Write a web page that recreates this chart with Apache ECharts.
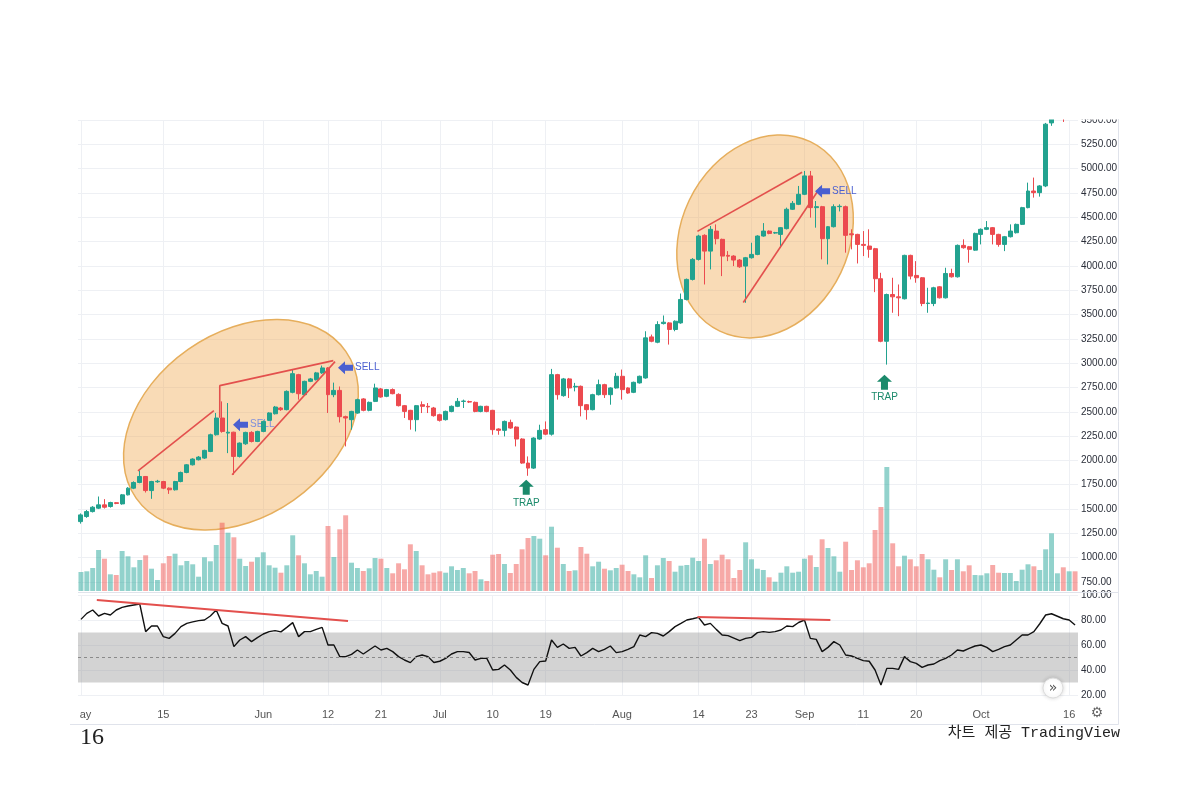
<!DOCTYPE html>
<html><head><meta charset="utf-8">
<script src="https://cdn.jsdelivr.net/npm/echarts@6/dist/echarts.min.js"></script>
<style>html,body{margin:0;padding:0;background:#fff}#c{width:1200px;height:800px}</style>
</head><body><div id="c"></div>
<script>
// ---- x-axis tick labels (day index -> label) ----
const tickIdx = [0,14,31,42,51,61,70,79,92,105,114,123,133,142,153,168];
const tickLabels = ['May','15','Jun','12','21','Jul','10','19','Aug','14','23','Sep','11','20','Oct','16'];

// ---- daily OHLC ----
const opens = [1371,1423,1474,1509,1543,1526,1565,1553,1646,1715,
1773,1835,1690,1780,1783,1715,1698,1783,1876,1955,
2007,2024,2092,2264,2436,2281,2290,2041,2171,2288,
2195,2298,2412,2480,2539,2522,2700,2882,2676,2813,
2830,2900,2951,2676,2720,2450,2419,2487,2632,2515,
2607,2735,2659,2728,2679,2563,2515,2419,2573,2556,
2539,2470,2419,2504,2556,2607,2605,2597,2504,2556,
2515,2323,2309,2391,2343,2220,1973,1921,2220,2316,
2270,2882,2666,2838,2755,2762,2573,2522,2676,2779,
2676,2745,2865,2745,2700,2797,2848,3270,3215,3407,
3414,3346,3414,3655,3861,4067,4314,4152,4358,4273,
4108,4101,4060,3998,4084,4118,4307,4358,4338,4324,
4383,4582,4633,4736,4925,4599,4609,4280,4403,4609,
4609,4330,4324,4221,4204,4177,3868,3225,3706,3682,
3662,4108,3902,3878,3613,3613,3785,3672,3922,3888,
4211,4197,4162,4324,4376,4393,4324,4221,4300,4341,
4427,4599,4770,4753,4822,5470,5620,5800,5640,5700];
const closes = [1440,1474,1519,1543,1519,1567,1558,1646,1715,1773,
1835,1690,1783,1786,1715,1698,1783,1876,1955,2014,
2034,2103,2264,2436,2298,2290,2041,2178,2288,2195,
2298,2401,2488,2549,2522,2710,2892,2686,2813,2838,
2900,2951,2676,2720,2450,2436,2504,2625,2515,2597,
2745,2652,2728,2686,2563,2504,2419,2563,2556,2550,
2460,2412,2504,2556,2607,2610,2600,2504,2556,2504,
2316,2309,2401,2333,2220,1973,1921,2230,2309,2270,
2882,2676,2838,2745,2762,2563,2522,2676,2779,2676,
2745,2865,2728,2693,2803,2865,3260,3225,3397,3421,
3346,3431,3655,3861,4067,4307,4152,4376,4280,4101,
4100,4060,3991,4084,4118,4307,4358,4334,4342,4393,
4582,4643,4736,4925,4599,4609,4280,4403,4609,4613,
4314,4320,4221,4211,4170,3868,3225,3706,3682,3672,
4108,3895,3878,3613,3618,3775,3672,3922,3888,4211,
4187,4170,4334,4376,4393,4324,4221,4300,4358,4427,
4599,4770,4753,4822,5457,5620,5800,5640,5700,5600];
const lows = [1350,1410,1465,1500,1505,1515,1550,1545,1640,1705,
1765,1670,1605,1770,1705,1656,1690,1775,1868,1948,
2000,2015,2085,2255,2285,2075,1852,2030,2160,2185,
2188,2290,2405,2472,2510,2515,2690,2625,2665,2805,
2822,2890,2488,2650,2390,2144,2316,2480,2505,2505,
2600,2645,2650,2680,2555,2436,2316,2298,2487,2487,
2450,2400,2410,2495,2548,2539,2590,2495,2495,2495,
2264,2264,2247,2325,2144,1965,1842,1912,2212,2260,
2255,2625,2655,2642,2710,2453,2419,2515,2668,2642,
2573,2738,2625,2685,2692,2790,2840,3215,3205,3398,
3191,3328,3405,3645,3850,4055,3809,3964,4221,3895,
4049,3998,3980,3621,4075,4110,4300,4325,4330,4187,
4375,4575,4625,4728,4496,4393,4067,4015,4395,4560,
4136,4170,4025,4101,4084,3730,3215,2985,3518,3483,
3655,3861,3827,3586,3518,3586,3665,3665,3880,3880,
4177,4033,4155,4221,4368,4221,4197,4152,4292,4333,
4420,4592,4702,4712,4810,5440,5560,5480,5560,5560];
const highs = [1455,1490,1530,1629,1602,1575,1572,1655,1725,1785,
1897,1840,1790,1800,1790,1722,1790,1885,1962,2022,
2045,2110,2275,2488,2607,2590,2295,2185,2295,2300,
2305,2410,2495,2560,2550,2720,2934,2890,2820,2848,
2910,2975,2960,2800,2760,2460,2510,2635,2640,2605,
2789,2745,2735,2740,2690,2570,2520,2570,2607,2590,
2550,2480,2512,2565,2642,2625,2615,2605,2562,2562,
2520,2330,2410,2419,2350,2228,2041,2238,2367,2401,
2941,2890,2848,2848,2797,2770,2580,2685,2831,2788,
2752,2900,2934,2752,2810,2872,3328,3294,3431,3490,
3422,3440,3716,3870,4080,4320,4325,4410,4427,4280,
4152,4110,4070,4092,4238,4315,4440,4365,4350,4400,
4599,4667,4822,4976,4976,4667,4617,4410,4633,4633,
4620,4376,4330,4358,4376,4185,3929,3715,3878,3809,
4115,4115,4049,3885,3775,3785,3792,3981,3971,4220,
4273,4205,4342,4385,4461,4400,4330,4308,4427,4435,
4607,4856,4908,4830,5470,5650,5850,5830,5760,5720];

// ---- volume (relative units) ----
const volumes = [19,19.7,23,41,32.3,16.7,16,40,34.7,23.7,
31,35.7,22.3,11,27.7,35,37.3,25.7,30,26.7,
14.3,33.7,29.7,46,68.3,58.3,53.7,32.3,25,29.3,
33.7,38.7,25.7,23.3,18.3,25.7,55.7,35.7,27.7,16.7,
20,14.3,65,34,61.7,75.7,28.3,23,20,22.7,
33,32.3,23,17.7,27.7,21.7,46.7,40,25.7,16.7,
18.3,19.7,18.3,24.7,21,23,17.7,20,11.7,10,
36.3,37,27,18,27,41.7,53,55,52.3,35.7,
64.3,43.3,27,20,20.7,44,37.3,24.7,29.3,22.3,
20.7,23,26.3,20,16.7,13.7,35.7,13,25.7,33,
30,19.3,25.3,26,33.3,30,52.3,27,30.7,36.3,
31.7,13,21,48.7,31.7,22.3,21,13.7,9.3,18.3,
24.7,18.3,19.3,32.3,35.7,24,51.7,43,34.7,19.3,
49.3,21,30.7,23.7,27.7,61,84,124,47.7,24.7,
35.3,31.7,24.7,37,31.7,21.3,13.7,31.7,21,31.7,
19.7,25.7,16,15.7,17.7,26,18.3,18,18,10,
21.3,26.7,24.7,21,41.7,57.7,17.7,23.7,19.7,19.7];

// ---- RSI ----
const rsi = [80.5,85.3,88,83.2,85.3,84,88,90.1,91.2,92,
92.8,70.7,75.2,75.2,66.7,65.3,69.3,74.7,77.3,78.5,
79.5,80,83.2,88,77.3,75.2,58.7,64,66.7,62.7,
65.9,68.8,70.7,71.5,70.5,74.1,77.9,66.7,70.7,70.7,
72.5,74.1,60,60,50.7,50.7,52.5,56,52.8,56,
59.2,56,57.3,54.7,50.7,48,45.9,50.7,52,50.7,
46,47,49.3,52.8,54.7,54.7,54,48,49.3,49.3,
40,40.5,44,40,34.1,30,28,40.5,46.7,47.2,
64,58.1,60.8,57.3,58.1,51.2,53.9,57.3,54.7,56.5,
59.2,53.9,54.7,56.5,58.7,68,66.7,69.9,69.3,67.2,
70.7,74.7,77.3,80,81,82.1,76,77.3,72.5,68,
67.5,65.5,63.5,65.3,66.1,69.9,70.7,70.1,70.7,72,
75.2,74.7,78,80,65.3,64.5,54.7,58.1,62.7,60,
52,51.2,49.3,47.5,47,40,28,41.3,41.3,40.5,
50.7,46.7,45.3,42.1,44,44.8,47.5,49.3,52,56,
55.2,57.3,59.2,60,58.1,54.7,56.5,58.7,60,64,
68,68,70.7,77,84,85,83,81,80,76];

// ---- annotations, in data coordinates [day index, price] ----
const sellSignals = [[25.85,2367],[43.7,2954],[124.8,4767]];
const trapSignals = [[75.7,1801],[136.6,2882]];
const zoneCentres = [[27.2,2367],[116.3,4303]];
const priceTrendLines = [
  [[9.7,1893],[22.6,2511]],
  [[23.6,2439],[23.6,2769],[42.9,3026]],
  [[25.7,1852],[43.2,3016]],
  [[104.8,4355],[122.6,4963]],
  [[112.6,3624],[125.7,4808]]
];
const rsiTrendLines = [[[2.7,96],[45.4,79.2]],[[104.8,82.4],[127.4,80]]];

const categories = [];
for (let i = 0; i < opens.length; i++) {
  const d = new Date(Date.UTC(2021, 4, 1 + i));
  categories.push(d.toISOString().slice(0, 10));
}

const FONT = "'Liberation Sans Narrow','Liberation Sans',sans-serif";
const GRID_LINE = '#eef0f4';
const UP = '#22a28f', DOWN = '#ec4a4f';
const UP_VOL = 'rgba(38,166,154,0.5)', DOWN_VOL = 'rgba(239,83,80,0.5)';
const TREND = '#e3504d';

const chart = echarts.init(document.getElementById('c'), null, {renderer: 'canvas'});

const series = [
  {
    type: 'candlestick', xAxisIndex: 0, yAxisIndex: 0, z: 3,
    data: opens.map((o, i) => [o, closes[i], lows[i], highs[i]]),
    barWidth: '76%',
    itemStyle: {color: UP, color0: DOWN, borderColor: UP, borderColor0: DOWN, borderWidth: 1}
  },
  {
    type: 'bar', xAxisIndex: 1, yAxisIndex: 1, z: 1, barCategoryGap: '16%',
    data: volumes.map((v, i) => ({value: v, itemStyle: {color: closes[i] >= opens[i] ? UP_VOL : DOWN_VOL}}))
  },
  {
    type: 'line', xAxisIndex: 3, yAxisIndex: 2, z: 3, symbol: 'none', silent: true,
    data: rsi.map((v, i) => [i, v]),
    lineStyle: {color: '#111', width: 1.4},
    markArea: {silent: true, itemStyle: {color: 'rgba(150,150,150,0.42)'}, data: [[{yAxis: 30}, {yAxis: 70}]]},
    markLine: {silent: true, symbol: ['none', 'none'], label: {show: false},
      lineStyle: {color: '#8a8a8a', type: [3, 3], width: 1}, data: [{yAxis: 50}]}
  }
];
priceTrendLines.forEach(pts => series.push({
  type: 'line', xAxisIndex: 2, yAxisIndex: 0, z: 4, symbol: 'none', silent: true,
  data: pts, lineStyle: {color: TREND, width: 1.6}
}));
rsiTrendLines.forEach(pts => series.push({
  type: 'line', xAxisIndex: 3, yAxisIndex: 2, z: 4, symbol: 'none', silent: true,
  data: pts, lineStyle: {color: TREND, width: 1.8}
}));

const vxBase = {
  type: 'value', min: -0.5, max: 169.5,
  axisLine: {show: false},
  axisTick: {show: false, customValues: tickIdx},
  axisLabel: {show: false},
  splitLine: {show: true, lineStyle: {color: GRID_LINE, width: 1}}
};

chart.setOption({
  animation: false,
  backgroundColor: '#fff',
  grid: [
    {left: 78, width: 1000, top: 120, height: 462},
    {left: 78, width: 1000, top: 461, height: 130},
    {left: 78, width: 1000, top: 595, height: 100}
  ],
  xAxis: [
    {type: 'category', gridIndex: 0, data: categories, show: false},
    {type: 'category', gridIndex: 1, data: categories, show: false},
    Object.assign({gridIndex: 0}, vxBase),
    Object.assign({}, vxBase, {gridIndex: 2, position: 'bottom',
      axisLabel: {show: true, customValues: tickIdx, margin: 14, color: '#555', fontSize: 11, fontFamily: FONT,
        formatter: v => tickLabels[tickIdx.indexOf(Math.round(v))] || ''}}),
    Object.assign({gridIndex: 1}, vxBase)
  ],
  yAxis: [
    {type: 'value', gridIndex: 0, position: 'right', min: 750, max: 5500, interval: 250,
      axisLine: {show: false}, axisTick: {show: false},
      axisLabel: {formatter: v => v.toFixed(2), color: '#2a2e39', fontSize: 10, margin: 3, fontFamily: FONT},
      splitLine: {show: true, lineStyle: {color: GRID_LINE}}},
    {type: 'value', gridIndex: 1, min: 0, max: 130, show: false},
    {type: 'value', gridIndex: 2, position: 'right', min: 20, max: 100, interval: 20,
      axisLine: {show: false}, axisTick: {show: false},
      axisLabel: {formatter: v => v.toFixed(2), color: '#2a2e39', fontSize: 10, margin: 3, fontFamily: FONT},
      splitLine: {show: true, lineStyle: {color: GRID_LINE}}}
  ],
  series: series
});

// ---- annotation graphics anchored to data coordinates ----
const toPx = p => chart.convertToPixel({xAxisIndex: 2, yAxisIndex: 0}, p);
const graphics = [];
const zoneStyle = [
  {rx: 128, ry: 92, rot: 35},
  {rx: 105, ry: 84, rot: 64.5}
];
zoneCentres.forEach((c, i) => {
  const [x, y] = toPx(c);
  graphics.push({type: 'ellipse', x: x, y: y, rotation: zoneStyle[i].rot * Math.PI / 180, silent: true, z: 1,
    shape: {cx: 0, cy: 0, rx: zoneStyle[i].rx, ry: zoneStyle[i].ry},
    style: {fill: 'rgba(240,170,80,0.42)', stroke: '#e6ae5c', lineWidth: 1.5}});
});
sellSignals.forEach((s, i) => {
  const [tx, ty] = toPx(s);
  graphics.push({type: 'polygon', z: 6, silent: true,
    shape: {points: [[tx, ty], [tx + 7, ty - 6.5], [tx + 7, ty - 3], [tx + 15, ty - 3], [tx + 15, ty + 3], [tx + 7, ty + 3], [tx + 7, ty + 6.5]]},
    style: {fill: '#4a5fd0'}});
  graphics.push({type: 'text', z: i === 0 ? 2 : 6, silent: true, x: tx + 17, y: ty,
    style: {text: 'SELL', fill: i === 0 ? '#7f8fdc' : '#4a5fd0', fontSize: 10, fontFamily: FONT, align: 'left', verticalAlign: 'middle'}});
});
trapSignals.forEach(s => {
  const [tx, ty] = toPx(s);
  graphics.push({type: 'polygon', z: 6, silent: true,
    shape: {points: [[tx, ty], [tx + 7.5, ty + 7], [tx + 3.5, ty + 7], [tx + 3.5, ty + 15], [tx - 3.5, ty + 15], [tx - 3.5, ty + 7], [tx - 7.5, ty + 7]]},
    style: {fill: '#1b8a6b'}});
  graphics.push({type: 'text', z: 6, silent: true, x: tx, y: ty + 23,
    style: {text: 'TRAP', fill: '#1b8a6b', fontSize: 10, fontFamily: FONT, align: 'center', verticalAlign: 'middle'}});
});
// frame / chrome
graphics.push(
  {type: 'rect', z: 50, silent: true, shape: {x: 0, y: 0, width: 1200, height: 119.5}, style: {fill: '#fff'}},
  {type: 'rect', z: 50, silent: true, shape: {x: 0, y: 700, width: 79, height: 24}, style: {fill: '#fff'}},
  {type: 'line', z: 51, silent: true, shape: {x1: 1118.5, y1: 119, x2: 1118.5, y2: 724.5}, style: {stroke: '#e0e3eb', lineWidth: 1}},
  {type: 'line', z: 51, silent: true, shape: {x1: 70, y1: 724.5, x2: 1118.5, y2: 724.5}, style: {stroke: '#e0e3eb', lineWidth: 1}},
  {type: 'line', z: 51, silent: true, shape: {x1: 78, y1: 592.5, x2: 1118.5, y2: 592.5}, style: {stroke: '#e0e3eb', lineWidth: 1}},
  {type: 'circle', z: 52, silent: true, shape: {cx: 1053, cy: 688, r: 10},
    style: {fill: '#fff', stroke: '#dcdcdc', lineWidth: 1, shadowBlur: 4, shadowColor: 'rgba(0,0,0,0.15)'}},
  {type: 'text', z: 53, silent: true, x: 1053, y: 688,
    style: {text: '»', fill: '#555', fontSize: 14, fontFamily: 'DejaVu Sans', align: 'center', verticalAlign: 'middle'}},
  {type: 'text', z: 53, silent: true, x: 1097, y: 713,
    style: {text: '⚙', fill: '#666', fontSize: 14, fontFamily: 'DejaVu Sans', align: 'center', verticalAlign: 'middle'}},
  {type: 'text', z: 53, silent: true, x: 80, y: 738,
    style: {text: '16', fill: '#222', fontSize: 24, fontFamily: "'Liberation Serif',serif", align: 'left', verticalAlign: 'middle'}},
  {type: 'text', z: 53, silent: true, x: 1120, y: 733,
    style: {text: '차트 제공 TradingView', fill: '#222', fontSize: 15, fontFamily: "'Liberation Mono','Noto Sans CJK KR',monospace", align: 'right', verticalAlign: 'middle'}}
);
chart.setOption({graphic: graphics});
</script>
</body></html>
